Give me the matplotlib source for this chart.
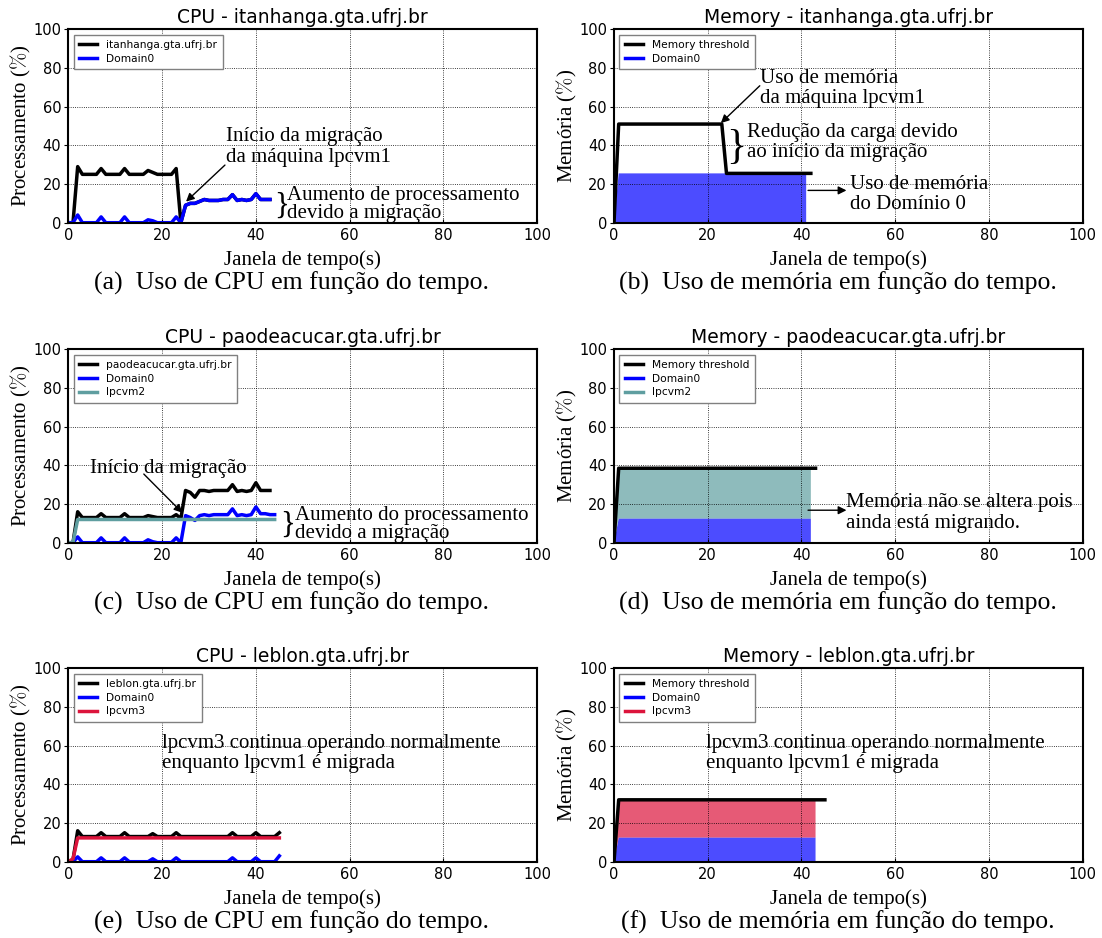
import numpy as np
import matplotlib
matplotlib.use("Agg")
import matplotlib.pyplot as plt
from matplotlib.lines import Line2D

cpu_a_host = [0, 0, 29, 25, 25, 25, 25, 28, 25, 25,
              25, 25, 28, 25, 25, 25, 25, 27, 26, 25,
              25, 25, 25, 28, 0, 9, 10, 10, 11, 12,
              11.5, 11.5, 11.5, 12, 12, 14.5, 11.5, 12, 11.5, 12,
              15, 12, 12, 12]
cpu_a_dom0 = [0, 0, 4, 0, 0, 0, 0, 3, 0, 0,
              0, 0, 3, 0, 0, 0, 0, 1.5, 1, 0,
              0, 0, 0, 3, 0, 9, 10, 10, 11, 12,
              11.5, 11.5, 11.5, 12, 12, 14.5, 11.5, 12, 11.5, 12,
              15, 12, 12, 12]

cpu_c_host = [0, 0, 16, 13, 13, 13, 13, 15, 13, 13,
              13, 13, 15, 13, 13, 13, 13, 14, 13.5, 13,
              13, 13, 13, 14.5, 12.5, 27, 26, 23.5, 27, 27,
              26.5, 27, 27, 27, 27, 30, 26.5, 27, 26.5, 27,
              31, 27, 27, 27]
cpu_c_dom0 = [0, 0, 3, 0, 0, 0, 0, 2.5, 0, 0,
              0, 0, 2.5, 0, 0, 0, 0, 1.5, 0.5, 0,
              0, 0, 0, 2.5, 0, 14, 13, 11.5, 14, 14.5,
              14, 14.5, 14.5, 14.5, 14.5, 17.5, 14, 14.5, 14, 14.5,
              18.5, 15, 15, 14.5, 14.5]
cpu_c_vm2 = [0, 0, 12, 12, 12, 12, 12, 12, 12, 12,
             12, 12, 12, 12, 12, 12, 12, 12, 12, 12,
             12, 12, 12, 12, 12, 12, 12, 12, 12, 12,
             12, 12, 12, 12, 12, 12, 12, 12, 12, 12,
             12, 12, 12, 12, 12]

cpu_e_host = [0, 1, 16, 13, 13, 13, 13, 15, 13, 13,
              13, 13, 15, 13, 13, 13, 13, 13, 14.5, 13,
              13, 13, 13, 15, 13, 13, 13, 13, 13, 13,
              13, 13, 13, 13, 13, 15, 13, 13, 13, 13,
              15, 13, 13, 13, 13, 15]
cpu_e_dom0 = [0, 0, 2.5, 0, 0, 0, 0, 2, 0, 0,
              0, 0, 2, 0, 0, 0, 0, 0, 1.5, 0,
              0, 0, 0, 2, 0, 0, 0, 0, 0, 0,
              0, 0, 0, 0, 0, 2, 0, 0, 0, 0,
              2, 0, 0, 0, 0, 3]
cpu_e_vm3 = [0, 1.5, 12.3, 12.3, 12.3, 12.3, 12.3, 12.3, 12.3, 12.3,
             12.3, 12.3, 12.3, 12.3, 12.3, 12.3, 12.3, 12.3, 12.3, 12.3,
             12.3, 12.3, 12.3, 12.3, 12.3, 12.3, 12.3, 12.3, 12.3, 12.3,
             12.3, 12.3, 12.3, 12.3, 12.3, 12.3, 12.3, 12.3, 12.3, 12.3,
             12.3, 12.3, 12.3, 12.3, 12.3, 12.3]

# memory (%)
mem_b_threshold = [0, 51, 51, 51, 51, 51, 51, 51, 51, 51,
                   51, 51, 51, 51, 51, 51, 51, 51, 51, 51,
                   51, 51, 51, 51, 25.5, 25.5, 25.5, 25.5, 25.5, 25.5,
                   25.5, 25.5, 25.5, 25.5, 25.5, 25.5, 25.5, 25.5, 25.5, 25.5,
                   25.5, 25.5, 25.5]
mem_b_dom0 = [0, 25.5, 25.5, 25.5, 25.5, 25.5, 25.5, 25.5, 25.5, 25.5,
              25.5, 25.5, 25.5, 25.5, 25.5, 25.5, 25.5, 25.5, 25.5, 25.5,
              25.5, 25.5, 25.5, 25.5, 25.5, 25.5, 25.5, 25.5, 25.5, 25.5,
              25.5, 25.5, 25.5, 25.5, 25.5, 25.5, 25.5, 25.5, 25.5, 25.5,
              25.5, 25.5]

mem_d_threshold = [0, 38.5, 38.5, 38.5, 38.5, 38.5, 38.5, 38.5, 38.5, 38.5,
                   38.5, 38.5, 38.5, 38.5, 38.5, 38.5, 38.5, 38.5, 38.5, 38.5,
                   38.5, 38.5, 38.5, 38.5, 38.5, 38.5, 38.5, 38.5, 38.5, 38.5,
                   38.5, 38.5, 38.5, 38.5, 38.5, 38.5, 38.5, 38.5, 38.5, 38.5,
                   38.5, 38.5, 38.5, 38.5]
mem_d_dom0 = [0, 12.5, 12.5, 12.5, 12.5, 12.5, 12.5, 12.5, 12.5, 12.5,
              12.5, 12.5, 12.5, 12.5, 12.5, 12.5, 12.5, 12.5, 12.5, 12.5,
              12.5, 12.5, 12.5, 12.5, 12.5, 12.5, 12.5, 12.5, 12.5, 12.5,
              12.5, 12.5, 12.5, 12.5, 12.5, 12.5, 12.5, 12.5, 12.5, 12.5,
              12.5, 12.5, 12.5]
mem_d_vm2 = [0, 26, 26, 26, 26, 26, 26, 26, 26, 26,
             26, 26, 26, 26, 26, 26, 26, 26, 26, 26,
             26, 26, 26, 26, 26, 26, 26, 26, 26, 26,
             26, 26, 26, 26, 26, 26, 26, 26, 26, 26,
             26, 26, 26]

mem_f_threshold = [0, 32, 32, 32, 32, 32, 32, 32, 32, 32,
                   32, 32, 32, 32, 32, 32, 32, 32, 32, 32,
                   32, 32, 32, 32, 32, 32, 32, 32, 32, 32,
                   32, 32, 32, 32, 32, 32, 32, 32, 32, 32,
                   32, 32, 32, 32, 32, 32]
mem_f_dom0 = [0, 12.5, 12.5, 12.5, 12.5, 12.5, 12.5, 12.5, 12.5, 12.5,
              12.5, 12.5, 12.5, 12.5, 12.5, 12.5, 12.5, 12.5, 12.5, 12.5,
              12.5, 12.5, 12.5, 12.5, 12.5, 12.5, 12.5, 12.5, 12.5, 12.5,
              12.5, 12.5, 12.5, 12.5, 12.5, 12.5, 12.5, 12.5, 12.5, 12.5,
              12.5, 12.5, 12.5, 12.5]
mem_f_vm3 = [0, 19.5, 19.5, 19.5, 19.5, 19.5, 19.5, 19.5, 19.5, 19.5,
             19.5, 19.5, 19.5, 19.5, 19.5, 19.5, 19.5, 19.5, 19.5, 19.5,
             19.5, 19.5, 19.5, 19.5, 19.5, 19.5, 19.5, 19.5, 19.5, 19.5,
             19.5, 19.5, 19.5, 19.5, 19.5, 19.5, 19.5, 19.5, 19.5, 19.5,
             19.5, 19.5, 19.5, 19.5]

hosts = ["itanhanga.gta.ufrj.br", "paodeacucar.gta.ufrj.br", "leblon.gta.ufrj.br"]
captions = ["(a)  Uso de CPU em função do tempo.",
            "(b)  Uso de memória em função do tempo.",
            "(c)  Uso de CPU em função do tempo.",
            "(d)  Uso de memória em função do tempo.",
            "(e)  Uso de CPU em função do tempo.",
            "(f)  Uso de memória em função do tempo."]

BLUE = "#0000ff"
TEAL = "#5f9ea0"
RED = "#dc143c"
SERIF = "Liberation Serif"

plt.rcParams["mathtext.fontset"] = "cm"

W, H = 1102, 938
fig = plt.figure(figsize=(W / 100, H / 100), dpi=100)

col_x = [68.3, 614.0]
col_w = [469.0, 468.7]
row_top = [29.3, 349.3, 668.3]
ax_h = 193.4
cap_x = [292, 838]


def t_of(v):
    return np.arange(len(v))


def make_axes(row, col, title, ylabel):
    left = col_x[col] / W
    bottom = 1 - (row_top[row] + ax_h) / H
    ax = fig.add_axes([left, bottom, col_w[col] / W, ax_h / H])
    ax.set_xlim(0, 100)
    ax.set_ylim(0, 100)
    ax.set_xticks(range(0, 101, 20))
    ax.set_yticks(range(0, 101, 20))
    ax.tick_params(labelsize=10.5, length=3, width=0.8)
    ax.tick_params(axis="x", direction="in", pad=4)
    ax.tick_params(axis="y", direction="out", pad=2)
    ax.grid(True, color="k", linestyle=":", linewidth=0.6)
    for s in ax.spines.values():
        s.set_linewidth(1.5)
    ax.set_title(title, fontsize=13.5, pad=4.5)
    ax.set_xlabel("Janela de tempo(s)", family=SERIF, fontsize=15)
    ax.xaxis.label.set_va("baseline")
    ax.xaxis.set_label_coords(0.5, -(236.0 - ax_h) / ax_h)
    ax.set_ylabel(ylabel, family=SERIF, fontsize=15)
    ax.yaxis.label.set_va("baseline")
    ax.yaxis.set_label_coords(-(col_x[0] - 26.7) / col_w[0], 0.5)
    fig.text(cap_x[col] / W, 1 - (row_top[row] + 260.5) / H, captions[row * 2 + col],
             family=SERIF, fontsize=18.5, ha="center", va="baseline")
    return ax


def legend(ax, handles):
    leg = ax.legend(handles=handles, loc="upper left", fontsize=7.7, handlelength=1.7,
                    handletextpad=0.85, labelspacing=0.35, borderpad=0.5,
                    borderaxespad=0.5, fancybox=False, framealpha=1)
    leg.get_frame().set_edgecolor("#808080")
    leg.get_frame().set_linewidth(1.0)


def note(ax, x, y, s, size=15, ls=1.1):
    # y is the baseline of the last line
    ax.text(x, y, s, family=SERIF, fontsize=size, va="baseline", ha="left", linespacing=ls)


def arrow(ax, tail, head):
    ax.annotate("", xy=head, xytext=tail,
                arrowprops=dict(arrowstyle="-|>", color="k", lw=1, shrinkA=0, shrinkB=0,
                                mutation_scale=12))


def brace(ax, x, y, size):
    ax.text(x, y, "}", family=SERIF, fontsize=size, ha="left", va="center")


cpu_lbl = r"Processamento ($\%$)"
mem_lbl = r"Memória ($\%$)"

# (a) CPU itanhanga
ax = make_axes(0, 0, "CPU - " + hosts[0], cpu_lbl)
ax.plot(t_of(cpu_a_host), cpu_a_host, color="k", lw=2.5, label=hosts[0])
ax.plot(t_of(cpu_a_dom0), cpu_a_dom0, color=BLUE, lw=2.5, label="Domain0")
legend(ax, ax.get_lines())
note(ax, 33.6, 31.5, "Início da migração\nda máquina lpcvm1")
arrow(ax, (33.4, 29.8), (25.1, 10.9))
brace(ax, 44.0, 8.3, 22)
note(ax, 46.7, 2.3, "Aumento de processamento\ndevido a migração", ls=0.95)

# (b) memory itanhanga
ax = make_axes(0, 1, "Memory - " + hosts[0], mem_lbl)
ax.stackplot(t_of(mem_b_dom0), mem_b_dom0, colors=[BLUE], alpha=0.7, lw=0)
ax.plot(t_of(mem_b_threshold), mem_b_threshold, color="k", lw=2.5)
legend(ax, [Line2D([], [], color="k", lw=2.5, label="Memory threshold"),
            Line2D([], [], color=BLUE, lw=2.5, label="Domain0")])
note(ax, 31.1, 61.9, "Uso de memória\nda máquina lpcvm1")
arrow(ax, (31.1, 70.8), (22.8, 51.5))
brace(ax, 24.0, 38.5, 30)
note(ax, 28.3, 33.9, "Redução da carga devido\nao início da migração")
note(ax, 50.3, 7.1, "Uso de memória\ndo Domínio 0")
arrow(ax, (41.4, 16.7), (49.6, 16.7))

# (c) CPU paodeacucar
ax = make_axes(1, 0, "CPU - " + hosts[1], cpu_lbl)
ax.plot(t_of(cpu_c_host), cpu_c_host, color="k", lw=2.5, label=hosts[1])
ax.plot(t_of(cpu_c_dom0), cpu_c_dom0, color=BLUE, lw=2.5, label="Domain0")
ax.plot(t_of(cpu_c_vm2), cpu_c_vm2, color=TEAL, lw=2.5, label="lpcvm2")
legend(ax, ax.get_lines())
note(ax, 4.7, 36.2, "Início da migração")
arrow(ax, (16.1, 35.5), (24.3, 15.5))
brace(ax, 45.1, 8.8, 22)
note(ax, 48.3, 2.3, "Aumento do processamento\ndevido a migração", ls=0.95)

# (d) memory paodeacucar
ax = make_axes(1, 1, "Memory - " + hosts[1], mem_lbl)
ax.stackplot(t_of(mem_d_dom0), mem_d_dom0, mem_d_vm2, colors=[BLUE, TEAL], alpha=0.7, lw=0)
ax.plot(t_of(mem_d_threshold), mem_d_threshold, color="k", lw=2.5)
legend(ax, [Line2D([], [], color="k", lw=2.5, label="Memory threshold"),
            Line2D([], [], color=BLUE, lw=2.5, label="Domain0"),
            Line2D([], [], color=TEAL, lw=2.5, label="lpcvm2")])
note(ax, 49.6, 7.7, "Memória não se altera pois\nainda está migrando.")
arrow(ax, (41.4, 16.8), (49.6, 16.8))

# (e) CPU leblon
ax = make_axes(2, 0, "CPU - " + hosts[2], cpu_lbl)
ax.plot(t_of(cpu_e_host), cpu_e_host, color="k", lw=2.5, label=hosts[2])
ax.plot(t_of(cpu_e_dom0), cpu_e_dom0, color=BLUE, lw=2.5, label="Domain0")
ax.plot(t_of(cpu_e_vm3), cpu_e_vm3, color=RED, lw=2.5, label="lpcvm3")
legend(ax, ax.get_lines())
note(ax, 20.0, 48.3, "lpcvm3 continua operando normalmente\nenquanto lpcvm1 é migrada")

# (f) memory leblon
ax = make_axes(2, 1, "Memory - " + hosts[2], mem_lbl)
ax.stackplot(t_of(mem_f_dom0), mem_f_dom0, mem_f_vm3, colors=[BLUE, RED], alpha=0.7, lw=0)
ax.plot(t_of(mem_f_threshold), mem_f_threshold, color="k", lw=2.5)
legend(ax, [Line2D([], [], color="k", lw=2.5, label="Memory threshold"),
            Line2D([], [], color=BLUE, lw=2.5, label="Domain0"),
            Line2D([], [], color=RED, lw=2.5, label="lpcvm3")])
note(ax, 19.7, 48.3, "lpcvm3 continua operando normalmente\nenquanto lpcvm1 é migrada")

fig.savefig("out.png", dpi=100)
